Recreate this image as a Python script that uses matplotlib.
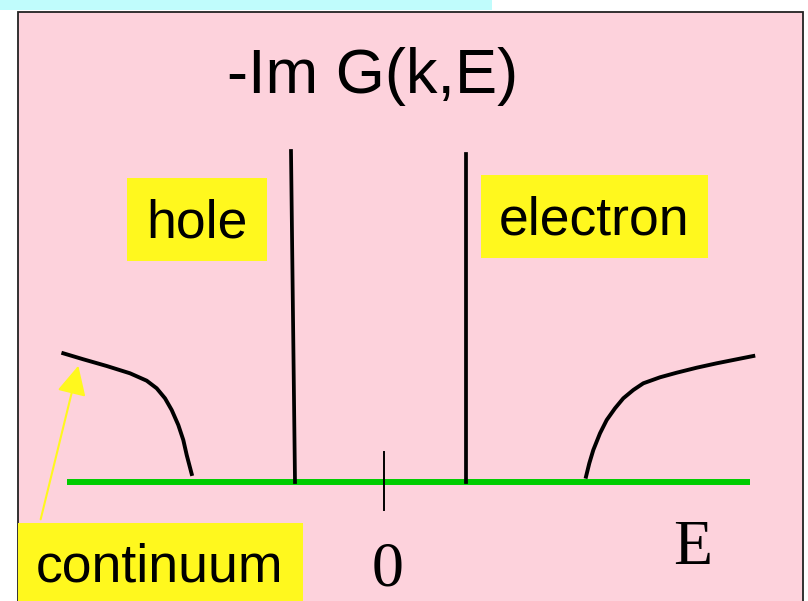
import matplotlib.pyplot as plt
from matplotlib.patches import Rectangle

# spectral function sketch: -Im G(k,E) vs E
# energy in arbitrary units, 0 = chemical potential

# quasiparticle (delta) peaks: energy at bottom/top and height
hole_peak_E = [-0.89, -0.93]
hole_peak_I = [0.0, 3.31]
elec_peak_E = [0.82, 0.82]
elec_peak_I = [0.0, 3.28]

# incoherent continuum on the hole side
hole_cont_E = [-3.207, -3.007, -2.773, -2.54, -2.373, -2.273, -2.19, -2.123,
               -2.057, -2.007, -1.973, -1.923]
hole_cont_I = [1.287, 1.227, 1.16, 1.087, 1.013, 0.937, 0.837, 0.72,
               0.57, 0.42, 0.27, 0.08]

# incoherent continuum on the electron side
elec_cont_E = [2.02, 2.053, 2.093, 2.16, 2.227, 2.31, 2.393, 2.493, 2.593,
               2.76, 2.927, 3.127, 3.327, 3.527, 3.693]
elec_cont_I = [0.053, 0.187, 0.32, 0.487, 0.62, 0.737, 0.837, 0.92, 0.987,
               1.047, 1.093, 1.143, 1.187, 1.227, 1.26]

# energy axis
axis_E = [-3.17, 3.66]
axis_I = [0.0, 0.0]
zero_tick_E = [0.0, 0.0]
zero_tick_I = [0.30, -0.28]

pink = '#fdd2dc'
yellow = '#fff81e'
green = '#00cc00'

fig = plt.figure(figsize=(8.08, 6.01), dpi=100)
ax = fig.add_axes([0, 0, 1, 1])
ax.set_xlim(-3.84, 4.24)
ax.set_ylim(-1.19, 4.82)
ax.axis('off')

# slide background
ax.add_patch(Rectangle((-3.84, 4.72), 4.92, 0.2, facecolor='#c0fcfc',
                       edgecolor='none', zorder=0, clip_on=False))
ax.add_patch(Rectangle((-3.66, -1.4), 7.85, 6.10, facecolor=pink,
                       edgecolor='#222222', lw=1.3, zorder=0, clip_on=False))

# the curves
ax.plot(axis_E, axis_I, color=green, lw=4.3, solid_capstyle='butt', zorder=2)
ax.plot(zero_tick_E, zero_tick_I, color='black', lw=1.4, zorder=3)
ax.plot(hole_peak_E, hole_peak_I, color='black', lw=2.7, zorder=3)
ax.plot(elec_peak_E, elec_peak_I, color='black', lw=2.7, zorder=3)
ax.plot(hole_cont_E, hole_cont_I, color='black', lw=2.8, zorder=3)
ax.plot(elec_cont_E, elec_cont_I, color='black', lw=2.8, zorder=3)

# labels
ax.text(-0.115, 3.89, '-Im G(k,E)', fontsize=45.5, family='Liberation Sans',
        ha='center', va='baseline')

ax.add_patch(Rectangle((-2.57, 2.21), 1.40, 0.83, facecolor=yellow,
                       edgecolor='none', zorder=1))
ax.text(-1.875, 2.44, 'hole', fontsize=38.5, family='Liberation Sans',
        ha='center', va='baseline', zorder=4)

ax.add_patch(Rectangle((0.97, 2.24), 2.27, 0.83, facecolor=yellow,
                       edgecolor='none', zorder=1))
ax.text(2.105, 2.47, 'electron', fontsize=38.5, family='Liberation Sans',
        ha='center', va='baseline', zorder=4)

ax.add_patch(Rectangle((-3.66, -1.4), 2.85, 0.99, facecolor=yellow,
                       edgecolor='none', zorder=1, clip_on=False))
ax.text(-2.24, -1.00, 'continuum', fontsize=38.5, family='Liberation Sans',
        ha='center', va='baseline', zorder=4)

ax.annotate('', xy=(-3.05, 1.19), xytext=(-3.44, -0.40),
            arrowprops=dict(arrowstyle='-|>,head_length=0.9,head_width=0.45',
                            mutation_scale=20, color=yellow, lw=1.5),
            zorder=4)

ax.text(0.04, -1.04, '0', fontsize=46, family='Liberation Serif',
        ha='center', va='baseline')
ax.text(3.09, -0.82, 'E', fontsize=46, family='Liberation Serif',
        ha='center', va='baseline')

fig.savefig('out.png', dpi=100)
